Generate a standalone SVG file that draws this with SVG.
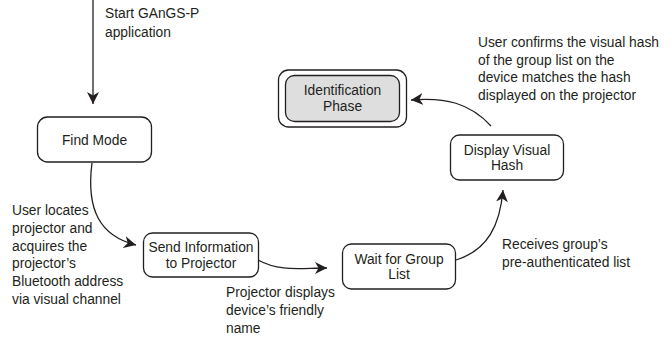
<svg xmlns="http://www.w3.org/2000/svg" width="672" height="339" viewBox="0 0 672 339">
<defs>
<marker id="ah" markerWidth="13" markerHeight="12" refX="12" refY="6" orient="auto" markerUnits="userSpaceOnUse">
<path d="M0,0 L12,6 L0,12 L3.5,6 Z" fill="#231f20"/>
</marker>
<style>
text{font-family:"Liberation Sans",Arial,sans-serif;font-size:13.8px;fill:#231f20}
.c{text-anchor:middle}
.box{fill:#fff;stroke:#231f20;stroke-width:1.3}
.conn path{fill:none;stroke:#231f20;stroke-width:1.3;marker-end:url(#ah)}
</style>
</defs>
<rect width="672" height="339" fill="#fff"/>
<g id="connectors" class="conn">
<path d="M93,0 L93,104"/>
<path d="M92,163 C86,210 100,236 136,245"/>
<path d="M258,260 C280,272 300,268 327,268"/>
<path d="M456,260 C488,250 500,225 503,190"/>
<path d="M491,126 C470,103 445,97 411,100"/>
</g>
<g id="label-start">
<text x="105" y="18">Start GAnGS-P</text>
<text x="105" y="37">application</text>
</g>
<g id="label-locate">
<text x="12" y="215">User locates</text>
<text x="12" y="233">projector and</text>
<text x="12" y="250.5">acquires the</text>
<text x="12" y="268">projector’s</text>
<text x="12" y="286">Bluetooth address</text>
<text x="12" y="303.5">via visual channel</text>
</g>
<g id="label-projector">
<text x="226" y="297">Projector displays</text>
<text x="226" y="315">device’s friendly</text>
<text x="226" y="333">name</text>
</g>
<g id="label-receives">
<text x="502" y="249">Receives group’s</text>
<text x="502" y="267">pre-authenticated list</text>
</g>
<g id="label-confirms">
<text x="478" y="47">User confirms the visual hash</text>
<text x="478" y="64.5">of the group list on the</text>
<text x="478" y="82">device matches the hash</text>
<text x="478" y="99.5">displayed on the projector</text>
</g>
<g id="find-mode">
<rect class="box" x="37.5" y="117" width="114" height="45" rx="10"/>
<text class="c" x="94.5" y="144.5">Find Mode</text>
</g>
<g id="send-information">
<rect class="box" x="143.5" y="233" width="115" height="44" rx="9"/>
<text class="c" x="201" y="252">Send Information</text>
<text class="c" x="201" y="267.5">to Projector</text>
</g>
<g id="wait-group-list">
<rect class="box" x="342.5" y="244" width="113" height="45" rx="9"/>
<text class="c" x="399" y="263.5">Wait for Group</text>
<text class="c" x="399" y="279">List</text>
</g>
<g id="display-visual-hash">
<rect class="box" x="450.5" y="135" width="113" height="45" rx="9"/>
<text class="c" x="507" y="154.5">Display Visual</text>
<text class="c" x="507" y="170">Hash</text>
</g>
<g id="identification-phase">
<rect class="box" x="278.5" y="70" width="128" height="57" rx="10"/>
<rect class="box" x="285.5" y="75.5" width="114" height="46" rx="9" style="fill:#dedede"/>
<text class="c" x="342.5" y="95">Identification</text>
<text class="c" x="342.5" y="110.5">Phase</text>
</g>
</svg>
